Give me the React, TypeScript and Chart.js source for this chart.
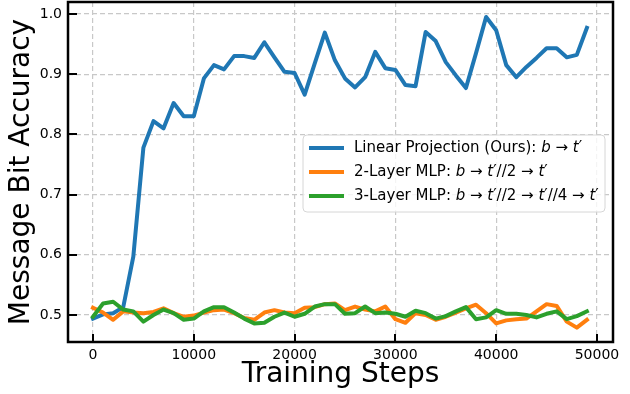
import React, { useEffect, useRef } from 'react';
import { Chart, registerables } from 'chart.js';

Chart.register(...registerables);

const STEPS = [
  0, 1000, 2000, 3000, 4000, 5000, 6000, 7000, 8000, 9000,
  10000, 11000, 12000, 13000, 14000, 15000, 16000, 17000, 18000, 19000,
  20000, 21000, 22000, 23000, 24000, 25000, 26000, 27000, 28000, 29000,
  30000, 31000, 32000, 33000, 34000, 35000, 36000, 37000, 38000, 39000,
  40000, 41000, 42000, 43000, 44000, 45000, 46000, 47000, 48000, 49000,
];

const LINEAR = [
  0.494, 0.501, 0.503, 0.513, 0.597, 0.778, 0.822, 0.81, 0.852, 0.83,
  0.83, 0.893, 0.915, 0.908, 0.93, 0.93, 0.927, 0.953, 0.928, 0.904,
  0.902, 0.866, 0.918, 0.969, 0.923, 0.893, 0.878, 0.895, 0.937, 0.91,
  0.907, 0.882, 0.88, 0.97, 0.955, 0.92, 0.898, 0.877, 0.935, 0.995,
  0.973, 0.915, 0.895, 0.912, 0.927, 0.943, 0.943, 0.928, 0.932, 0.977,
];

const MLP2 = [
  0.512, 0.504, 0.492, 0.506, 0.504, 0.503, 0.505, 0.511, 0.503, 0.497,
  0.499, 0.504, 0.508, 0.509, 0.503, 0.495, 0.492, 0.504, 0.508, 0.504,
  0.503, 0.512, 0.513, 0.518, 0.519, 0.508, 0.514, 0.509, 0.506, 0.514,
  0.493, 0.487, 0.503, 0.5, 0.492, 0.497, 0.504, 0.511, 0.517, 0.503,
  0.486, 0.491, 0.493, 0.494, 0.506, 0.518, 0.515, 0.489, 0.479, 0.492,
];

const MLP3 = [
  0.497, 0.519, 0.522, 0.509, 0.506, 0.489, 0.5, 0.509, 0.503, 0.492,
  0.494, 0.506, 0.513, 0.513, 0.504, 0.494, 0.486, 0.487, 0.497, 0.504,
  0.497, 0.502, 0.514, 0.518, 0.518, 0.502, 0.503, 0.514, 0.503, 0.504,
  0.502, 0.497, 0.507, 0.503, 0.494, 0.498, 0.506, 0.513, 0.493, 0.496,
  0.508, 0.502, 0.502, 0.5, 0.496, 0.502, 0.506, 0.493, 0.498, 0.506,
];

const X_TICKS = [0, 10000, 20000, 30000, 40000, 50000];
const Y_TICKS = [0.5, 0.6, 0.7, 0.8, 0.9, 1.0];

const X_TITLE = 'Training Steps';
const Y_TITLE = 'Message Bit Accuracy';

const SERIES_LABELS = [
  'Linear Projection (Ours): b → t′',
  '2-Layer MLP: b → t′//2 → t′',
  '3-Layer MLP: b → t′//2 → t′//4 → t′',
];

// legend rich text: [text, italic]
const LEGEND_PARTS: [string, boolean][][] = [
  [['Linear Projection (Ours): ', false], ['b', true], [' → ', false], ['t', true], ['′', false]],
  [['2-Layer MLP: ', false], ['b', true], [' → ', false], ['t', true], ['′//2', false], [' → ', false], ['t', true], ['′', false]],
  [['3-Layer MLP: ', false], ['b', true], [' → ', false], ['t', true], ['′//2', false], [' → ', false], ['t', true], ['′//4', false], [' → ', false], ['t', true], ['′', false]],
];

const COLORS = ['#1f77b4', '#ff7f0e', '#2ca02c'];
const FONT = 'DejaVu Sans';

const framePlugin = {
  id: 'frameTicksLegend',
  afterDatasetsDraw(chart: any) {
    const { ctx, chartArea: a, scales } = chart;
    ctx.save();
    // inward ticks
    ctx.strokeStyle = '#000';
    ctx.lineWidth = 2;
    ctx.beginPath();
    X_TICKS.forEach((v) => {
      const px = Math.round(scales.x.getPixelForValue(v));
      ctx.moveTo(px, a.bottom);
      ctx.lineTo(px, a.bottom - 8);
    });
    Y_TICKS.forEach((v) => {
      const py = Math.round(scales.y.getPixelForValue(v));
      ctx.moveTo(a.left, py);
      ctx.lineTo(a.left + 9, py);
    });
    ctx.stroke();
    // frame
    ctx.lineWidth = 2.5;
    ctx.strokeRect(a.left, a.top, a.right - a.left, a.bottom - a.top);

    // legend
    const bx = a.right - 310;
    const by = a.top + 133;
    const bw = 302;
    const bh = 77;
    const r = 4;
    ctx.beginPath();
    ctx.moveTo(bx + r, by);
    ctx.lineTo(bx + bw - r, by);
    ctx.arcTo(bx + bw, by, bx + bw, by + r, r);
    ctx.lineTo(bx + bw, by + bh - r);
    ctx.arcTo(bx + bw, by + bh, bx + bw - r, by + bh, r);
    ctx.lineTo(bx + r, by + bh);
    ctx.arcTo(bx, by + bh, bx, by + bh - r, r);
    ctx.lineTo(bx, by + r);
    ctx.arcTo(bx, by, bx + r, by, r);
    ctx.closePath();
    ctx.fillStyle = 'rgba(255,255,255,0.8)';
    ctx.fill();
    ctx.strokeStyle = '#d6d6d6';
    ctx.lineWidth = 1;
    ctx.stroke();

    LEGEND_PARTS.forEach((parts, i) => {
      const cy = by + 13 + i * 24;
      ctx.strokeStyle = COLORS[i];
      ctx.lineWidth = 4;
      ctx.lineCap = 'butt';
      ctx.beginPath();
      ctx.moveTo(bx + 6, cy);
      ctx.lineTo(bx + 41, cy);
      ctx.stroke();
      let tx = bx + 51;
      ctx.fillStyle = '#000';
      ctx.textBaseline = 'middle';
      ctx.textAlign = 'left';
      parts.forEach(([t, it]) => {
        ctx.font = `${it ? 'italic ' : ''}15px "${FONT}"`;
        ctx.fillText(t, tx, cy);
        tx += ctx.measureText(t).width;
      });
    });
    ctx.restore();
  },
};

export default function App() {
  const ref = useRef<HTMLCanvasElement>(null);
  useEffect(() => {
    if (!ref.current) return;
    const mk = (arr: number[]) => STEPS.map((s, i) => ({ x: s, y: arr[i] }));
    const chart = new Chart(ref.current, {
      type: 'line',
      data: {
        datasets: [
          { label: SERIES_LABELS[0], data: mk(LINEAR), borderColor: COLORS[0], order: 2 },
          { label: SERIES_LABELS[1], data: mk(MLP2), borderColor: COLORS[1], order: 1 },
          { label: SERIES_LABELS[2], data: mk(MLP3), borderColor: COLORS[2], order: 0 },
        ].map((d) => ({
          ...d,
          borderWidth: 4,
          pointRadius: 0,
          tension: 0,
          fill: false,
          borderJoinStyle: 'round' as const,
          borderCapStyle: 'square' as const,
        })),
      },
      options: {
        animation: false,
        responsive: false,
        devicePixelRatio: 1,
        layout: { padding: { left: 0, right: 17, top: 2, bottom: 0 } },
        plugins: { legend: { display: false }, tooltip: { enabled: false } },
        scales: {
          x: {
            type: 'linear',
            min: -2480,
            max: 51590,
            afterBuildTicks: (s: any) => {
              s.ticks = X_TICKS.map((v) => ({ value: v }));
            },
            afterFit: (s: any) => {
              s.height = 52;
              s.paddingLeft = 0;
              s.paddingRight = 0;
            },
            grid: { color: '#c8c8c8', lineWidth: 1.2, drawTicks: false },
            border: { display: false, dash: [5, 3] },
            ticks: {
              autoSkip: false,
              maxRotation: 0,
              padding: 5,
              color: '#000',
              font: { family: FONT, size: 14 },
              callback: (v: any) => String(v),
            },
            title: {
              display: true,
              text: X_TITLE,
              color: '#000',
              font: { family: FONT, size: 28 },
              padding: { top: 0, bottom: 2 },
            },
          },
          y: {
            type: 'linear',
            min: 0.4551,
            max: 1.0199,
            afterBuildTicks: (s: any) => {
              s.ticks = Y_TICKS.map((v) => ({ value: v }));
            },
            afterFit: (s: any) => {
              s.width = 68;
              s.paddingTop = 0;
              s.paddingBottom = 0;
            },
            grid: { color: '#c8c8c8', lineWidth: 1.2, drawTicks: false },
            border: { display: false, dash: [5, 3] },
            ticks: {
              padding: 6,
              color: '#000',
              font: { family: FONT, size: 14 },
              callback: (v: any) => Number(v).toFixed(1),
            },
            title: {
              display: true,
              text: Y_TITLE,
              color: '#000',
              font: { family: FONT, size: 28 },
              padding: { top: 5, bottom: 0 },
            },
          },
        },
      },
      plugins: [framePlugin],
    });
    return () => chart.destroy();
  }, []);
  return (
    <div style={{ position: 'fixed', left: 0, top: 0, width: 630, height: 394, background: '#fff' }}>
      <canvas ref={ref} width={630} height={394} />
    </div>
  );
}
